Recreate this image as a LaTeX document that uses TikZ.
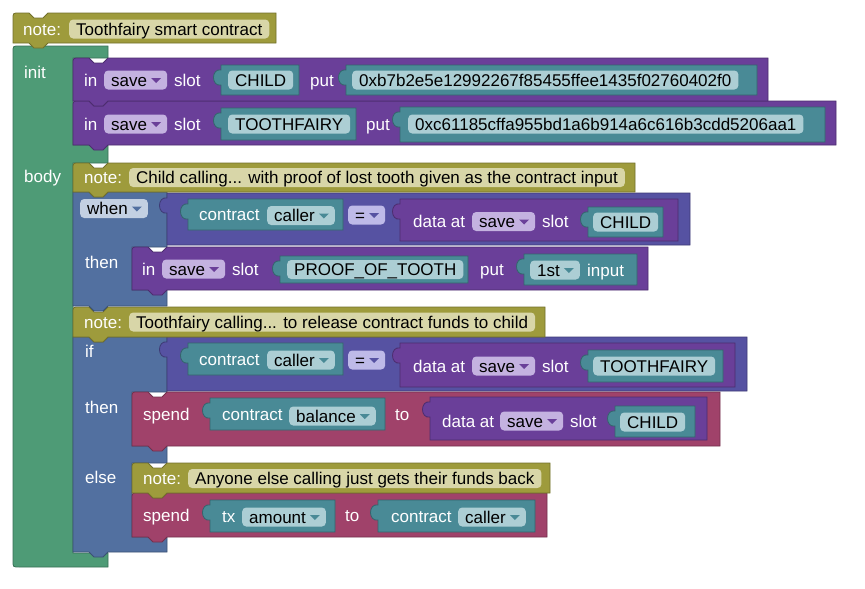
\documentclass[tikz,border=0pt]{standalone}
\usepackage{fontspec}
\setmainfont{Liberation Sans}
\usepackage{tikz}
\usetikzlibrary{calc}

\definecolor{notec}{RGB}{158,155,60}
\definecolor{notef}{RGB}{216,214,168}
\definecolor{greenc}{RGB}{78,155,118}
\definecolor{purpc}{RGB}{106,63,153}
\definecolor{savef}{RGB}{196,178,224}
\definecolor{tealc}{RGB}{73,138,150}
\definecolor{tealf}{RGB}{172,206,212}
\definecolor{bluec}{RGB}{82,112,160}
\definecolor{whenf}{RGB}{195,208,226}
\definecolor{cmpc}{RGB}{86,82,162}
\definecolor{eqf}{RGB}{190,186,232}
\definecolor{spendc}{RGB}{160,66,106}

% statement block: x1 y1 x2 y2 colour (notch on top, tab below)
\newcommand{\stmtblock}[5]{%
  \draw[fill=#5,draw=#5!72!black,line width=0.8pt]
    ($(#1,#2)+(0,6)$) .. controls (#1,#2) .. ($(#1,#2)+(6,0)$)
    -- ($(#1,#2)+(16,0)$) -- ++(5,5) -- ++(9,0) -- ++(5,-5)
    -- (#3,#2) -- (#3,#4) -- ($(#1,#4)+(35,0)$) -- ++(-5,5) -- ++(-9,0) -- ++(-5,-5)
    -- (#1,#4) -- cycle;}
% value block: x1 y1 x2 y2 colour (tab on the left)
\newcommand{\valblock}[5]{%
  \draw[fill=#5,draw=#5!72!black,line width=0.8pt]
    ($(#1,#2)+(0,5)$) -- (#1,#2) -- (#3,#2) -- (#3,#4) -- (#1,#4) -- ($(#1,#2)+(0,20)$)
    .. controls +(-10,2) and +(-10,-2) .. ($(#1,#2)+(0,5)$) -- cycle;}

\begin{document}
\begin{tikzpicture}[x=1pt,y=-1pt,
  every node/.style={font=\fontsize{17pt}{20pt}\selectfont,text height=12.2pt,text depth=0pt},
  lbl/.style={anchor=west,inner sep=0pt,text=white},
  fld/.style={anchor=west,rounded corners=4pt,inner xsep=7pt,inner ysep=0pt,
    minimum height=19pt,text=black,fill=#1},
  dd/.style={execute at end node={\hspace{13pt}},
    path picture={\fill[#1,sharp corners] ($(path picture bounding box.east)+(-16,-2)$)
      -- ++(10,0) -- ++(-5,5) -- cycle;}}]
\path[use as bounding box,fill=white] (0,0) rectangle (865,589);
%
% contract block
\draw[fill=greenc,draw=greenc!72!black,line width=0.8pt]
  (13,52) .. controls (13,46) .. (19,46) -- (108,46) -- (108,58) -- (73,58)
  -- (73,145) -- (108,145) -- (108,163) -- (73,163) -- (73,553) -- (108,553)
  -- (108,567) -- (19,567) .. controls (13,567) .. (13,561) -- cycle;
\node[lbl] (init) at (24,72) {init};
\node[lbl] (body) at (24,176) {body};
%
\stmtblock{13}{13}{276}{43}{notec}
\node[lbl] (n1) at (23,29) {note:};
\node[fld=notef] (n1t) at (69,29) {Toothfairy smart contract};
%
% init
\stmtblock{73}{101}{836}{145}{purpc}
\stmtblock{73}{58}{768}{101}{purpc}
\node[lbl] (p1in) at (84,80) {in};
\node[fld=savef,dd=purpc] (p1s) at (104,80) {save};
\node[lbl] (p1slot) at (174,80) {slot};
\valblock{221}{65}{299}{95}{tealc}
\node[fld=tealf] (p1k) at (228,80) {CHILD};
\node[lbl] (p1put) at (310,80) {put};
\valblock{346}{65}{757}{95}{tealc}
\node[fld=tealf] (p1v) at (352,80) {0xb7b2e5e12992267f85455ffee1435f02760402f0};
%
\node[lbl] (p2in) at (84,124) {in};
\node[fld=savef,dd=purpc] (p2s) at (104,124) {save};
\node[lbl] (p2slot) at (174,124) {slot};
\valblock{221}{108}{356}{140}{tealc}
\node[fld=tealf] (p2k) at (228,124) {TOOTHFAIRY};
\node[lbl] (p2put) at (366,124) {put};
\valblock{400}{107}{825}{142}{tealc}
\node[fld=tealf] (p2v) at (408,124) {0xc61185cffa955bd1a6b914a6c616b3cdd5206aa1};
%
% body: if block
\draw[fill=bluec,draw=bluec!72!black,line width=0.8pt]
  (73,337) -- (89,337) -- ++(5,5) -- ++(9,0) -- ++(5,-5) -- (167,337) -- (167,392)
  -- (132,392) -- (132,446) -- (167,446) -- (167,463) -- (132,463) -- (132,537)
  -- (167,537) -- (167,552) -- (108,552) -- ++(-5,5) -- ++(-9,0) -- ++(-5,-5)
  -- (73,552) -- cycle;
\node[lbl] (if) at (85,351) {if};
\node[lbl] (ifthen) at (85,407) {then};
\node[lbl] (ifelse) at (85,477) {else};
%
\valblock{167}{337}{747}{391}{cmpc}
\valblock{188}{343}{343}{375}{tealc}
\node[lbl] (c2a) at (199,359) {contract};
\node[fld=tealf,dd=tealc] (c2b) at (267,360) {caller};
\node[fld=eqf,dd=cmpc] (c2e) at (348,360) {=};
\valblock{400}{343}{735}{387}{purpc}
\node[lbl] (c2d) at (413,366) {data at};
\node[fld=savef,dd=purpc] (c2s) at (472,366) {save};
\node[lbl] (c2slot) at (542,366) {slot};
\valblock{588}{350}{723}{382}{tealc}
\node[fld=tealf] (c2k) at (593,366) {TOOTHFAIRY};
%
\stmtblock{132}{493}{547}{537}{spendc}
\node[lbl] (s2) at (143,515) {spend};
\valblock{210}{500}{335}{532}{tealc}
\node[lbl] (s2tx) at (222,516) {tx};
\node[fld=tealf,dd=tealc] (s2a) at (242,517) {amount};
\node[lbl] (s2to) at (345,515) {to};
\valblock{378}{500}{535}{532}{tealc}
\node[lbl] (s2c) at (391,516) {contract};
\node[fld=tealf,dd=tealc] (s2b) at (458,517) {caller};
%
\stmtblock{132}{463}{550}{493}{notec}
\node[lbl] (n4) at (143,478) {note:};
\node[fld=notef] (n4t) at (188,478.5) {Anyone else calling just gets their funds back};
%
\stmtblock{132}{392}{720}{446}{spendc}
\node[lbl] (s1) at (143,414) {spend};
\valblock{210}{398}{385}{430}{tealc}
\node[lbl] (s1c) at (222,414) {contract};
\node[fld=tealf,dd=tealc] (s1b) at (289,416) {balance};
\node[lbl] (s1to) at (395,414) {to};
\valblock{430}{397}{707}{440}{purpc}
\node[lbl] (s1d) at (442,421) {data at};
\node[fld=savef,dd=purpc] (s1s) at (500,421) {save};
\node[lbl] (s1slot) at (570,421) {slot};
\valblock{615}{406}{695}{437}{tealc}
\node[fld=tealf] (s1k) at (620,422) {CHILD};
%
\stmtblock{73}{307}{545}{337}{notec}
\node[lbl] (n3) at (84,322) {note:};
\node[fld=notef] (n3t) at (129,322) {Toothfairy calling... to release contract funds to child};
%
% body: when block
\draw[fill=bluec,draw=bluec!72!black,line width=0.8pt]
  (73,192) -- (89,192) -- ++(5,5) -- ++(9,0) -- ++(5,-5) -- (167,192) -- (167,247)
  -- (132,247) -- (132,290) -- (167,290) -- (167,306) -- (108,306) -- ++(-5,5)
  -- ++(-9,0) -- ++(-5,-5) -- (73,306) -- cycle;
\node[fld=whenf,dd=bluec] (when) at (80,208.5) {when};
\node[lbl] (wthen) at (85,262) {then};
%
\valblock{167}{193}{690}{245}{cmpc}
\valblock{188}{199}{343}{230}{tealc}
\node[lbl] (c1a) at (199,214.5) {contract};
\node[fld=tealf,dd=tealc] (c1b) at (267,215.5) {caller};
\node[fld=eqf,dd=cmpc] (c1e) at (348,215) {=};
\valblock{400}{199}{678}{241}{purpc}
\node[lbl] (c1d) at (413,221.5) {data at};
\node[fld=savef,dd=purpc] (c1s) at (472,221.5) {save};
\node[lbl] (c1slot) at (542,221.5) {slot};
\valblock{588}{207}{663}{237}{tealc}
\node[fld=tealf] (c1k) at (593,222) {CHILD};
%
\stmtblock{132}{247}{648}{290}{purpc}
\node[lbl] (p3in) at (142,269) {in};
\node[fld=savef,dd=purpc] (p3s) at (162,269) {save};
\node[lbl] (p3slot) at (232,269) {slot};
\valblock{280}{256}{468}{283}{tealc}
\node[fld=tealf] (p3k) at (287,269.5) {PROOF\_OF\_TOOTH};
\node[lbl] (p3put) at (480,269) {put};
\valblock{524}{254}{637}{285}{tealc}
\node[fld=tealf,dd=tealc] (p3n) at (530,270) {1st};
\node[lbl] (p3inp) at (587,270) {input};
%
\stmtblock{73}{163}{635}{192}{notec}
\node[lbl] (n2) at (84,177.5) {note:};
\node[fld=notef] (n2t) at (129,177.5) {Child calling... with proof of lost tooth given as the contract input};
\end{tikzpicture}
\end{document}
